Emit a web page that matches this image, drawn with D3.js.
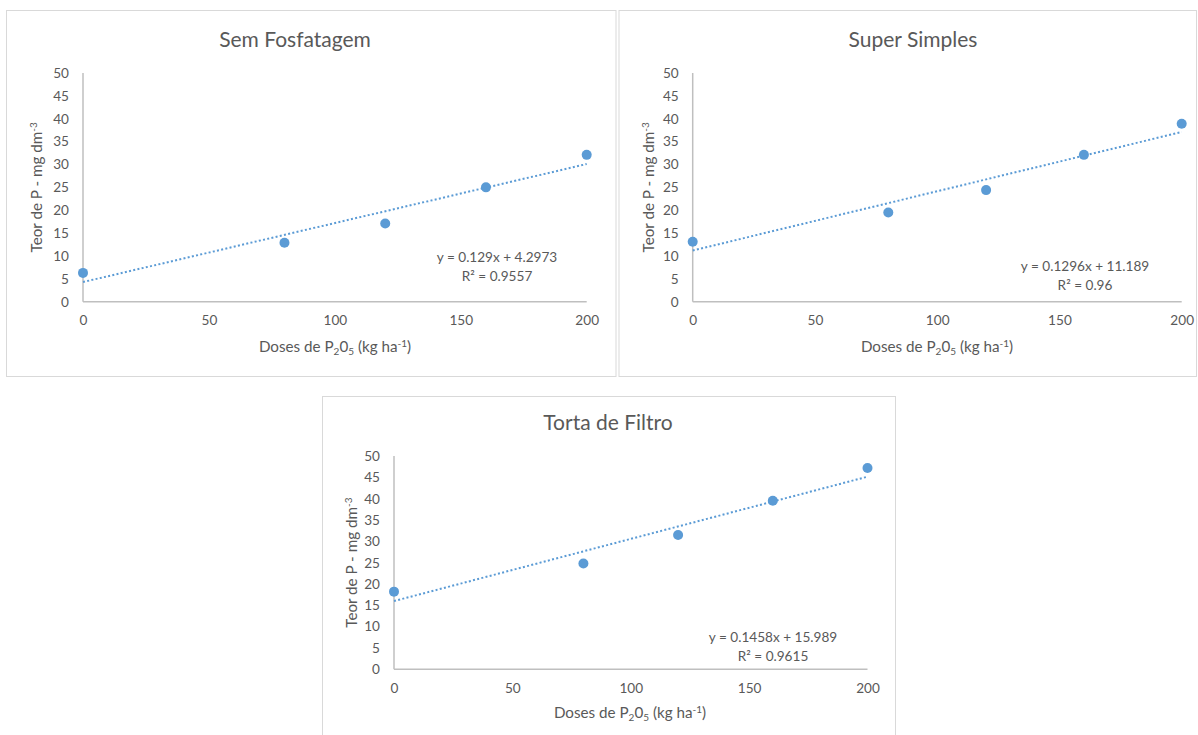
<!DOCTYPE html>
<meta charset="utf-8">
<style>
body { margin: 0; background: #fff; }
svg text { font-family: Lato, "Open Sans", sans-serif; fill: #595959; }
.axis path, .axis line { stroke: #bfbfbf; stroke-width: 1.5; fill: none; }
.axis text { font-size: 13.6px; }
.frame { fill: #fff; stroke: #d9d9d9; stroke-width: 1; }
.trend { fill: none; stroke: #5b9bd5; stroke-width: 2; stroke-dasharray: 2,2.3; }
.dot { fill: #5b9bd5; }
</style>
<svg id="plot" width="1198" height="735"></svg>
<script src="https://d3js.org/d3.v7.min.js"></script>
<script>

// data
var doses = [0, 80, 120, 160, 200];
var semFosfatagem = [6.3, 12.9, 17.1, 25.0, 32.1];
var superSimples = [13.1, 19.5, 24.4, 32.1, 38.9];
var tortaDeFiltro = [18.2, 24.8, 31.5, 39.5, 47.2];

var titles = ["Sem Fosfatagem", "Super Simples", "Torta de Filtro"];
// linear trend: slope, intercept, r2
var slopes = [0.129, 0.1296, 0.1458];
var intercepts = [4.2973, 11.189, 15.989];
var r2 = ["0.9557", "0.96", "0.9615"];
var eqText = ["y = 0.129x + 4.2973", "y = 0.1296x + 11.189", "y = 0.1458x + 15.989"];

var xTicks = [0, 50, 100, 150, 200];
var yTicks = [0, 5, 10, 15, 20, 25, 30, 35, 40, 45, 50];

// panel layout
var panels = [
  {box: [6.5, 10.5, 609.5, 366], plot: [83, 586.7, 73, 301.7], title: [295, 47], eq: [497, 262], ytitle: 42, xtitle: [335, 352], series: semFosfatagem},
  {box: [619, 10.5, 577.5, 366], plot: [692.7, 1181.7, 73, 301.7], title: [913, 47], eq: [1085, 271], ytitle: 654, xtitle: [937, 352], series: superSimples},
  {box: [322.5, 396.5, 573, 345], plot: [394, 867.5, 456, 669.3], title: [608, 430], eq: [773, 642], ytitle: 357, xtitle: [630, 718], series: tortaDeFiltro}
];

var svg = d3.select("svg");

panels.forEach(function(p, i) {
  var g = svg.append("g");

  g.append("rect").attr("class", "frame")
      .attr("x", p.box[0]).attr("y", p.box[1])
      .attr("width", p.box[2]).attr("height", p.box[3]);

  var x = d3.scaleLinear().domain([0, 200]).range([p.plot[0], p.plot[1]]);
  var y = d3.scaleLinear().domain([0, 50]).range([p.plot[3], p.plot[2]]);

  // axes
  var ax = g.append("g").attr("class", "axis")
      .attr("transform", "translate(0," + p.plot[3] + ")")
      .call(d3.axisBottom(x).tickValues(xTicks).tickSize(0).tickPadding(14));
  ax.selectAll("text").attr("dy", "0.71em");

  var ay = g.append("g").attr("class", "axis")
      .attr("transform", "translate(" + p.plot[0] + ",0)")
      .call(d3.axisLeft(y).tickValues(yTicks).tickSize(0).tickPadding(14));
  ay.select(".domain").attr("d", "M0," + y(0) + "V" + y(50));
  ax.select(".domain").attr("d", "M" + x(0) + ",0H" + x(200));

  // trendline
  g.append("line").attr("class", "trend")
      .attr("x1", x(0)).attr("y1", y(intercepts[i]))
      .attr("x2", x(200)).attr("y2", y(slopes[i] * 200 + intercepts[i]));

  g.selectAll(".dot").data(doses).enter().append("circle")
      .attr("class", "dot")
      .attr("r", 5)
      .attr("cx", function(d) { return x(d); })
      .attr("cy", function(d, j) { return y(p.series[j]); });

  // title
  g.append("text").attr("x", p.title[0]).attr("y", p.title[1])
      .attr("text-anchor", "middle").style("font-size", "21px")
      .text(titles[i]);

  // equation
  g.append("text").attr("x", p.eq[0]).attr("y", p.eq[1])
      .attr("text-anchor", "middle").style("font-size", "13.6px")
      .text(eqText[i]);
  g.append("text").attr("x", p.eq[0]).attr("y", p.eq[1] + 19)
      .attr("text-anchor", "middle").style("font-size", "13.6px")
      .text("R² = " + r2[i]);

  // x title
  var xt = g.append("text").attr("x", p.xtitle[0]).attr("y", p.xtitle[1])
      .attr("text-anchor", "middle").style("font-size", "15.2px");
  xt.append("tspan").text("Doses de P");
  xt.append("tspan").attr("dy", 3).style("font-size", "10px").text("2");
  xt.append("tspan").attr("dy", -3).text("0");
  xt.append("tspan").attr("dy", 3).style("font-size", "10px").text("5");
  xt.append("tspan").attr("dy", -3).text(" (kg ha");
  xt.append("tspan").attr("dy", -5).style("font-size", "10px").text("-1");
  xt.append("tspan").attr("dy", 5).text(")");

  // y title
  var yc = (p.plot[2] + p.plot[3]) / 2;
  var yt = g.append("text")
      .attr("transform", "translate(" + p.ytitle + "," + yc + ") rotate(-90)")
      .attr("text-anchor", "middle").style("font-size", "15.2px");
  yt.append("tspan").text("Teor de P - mg dm");
  yt.append("tspan").attr("dy", -5).style("font-size", "10px").text("-3");
});

</script>
